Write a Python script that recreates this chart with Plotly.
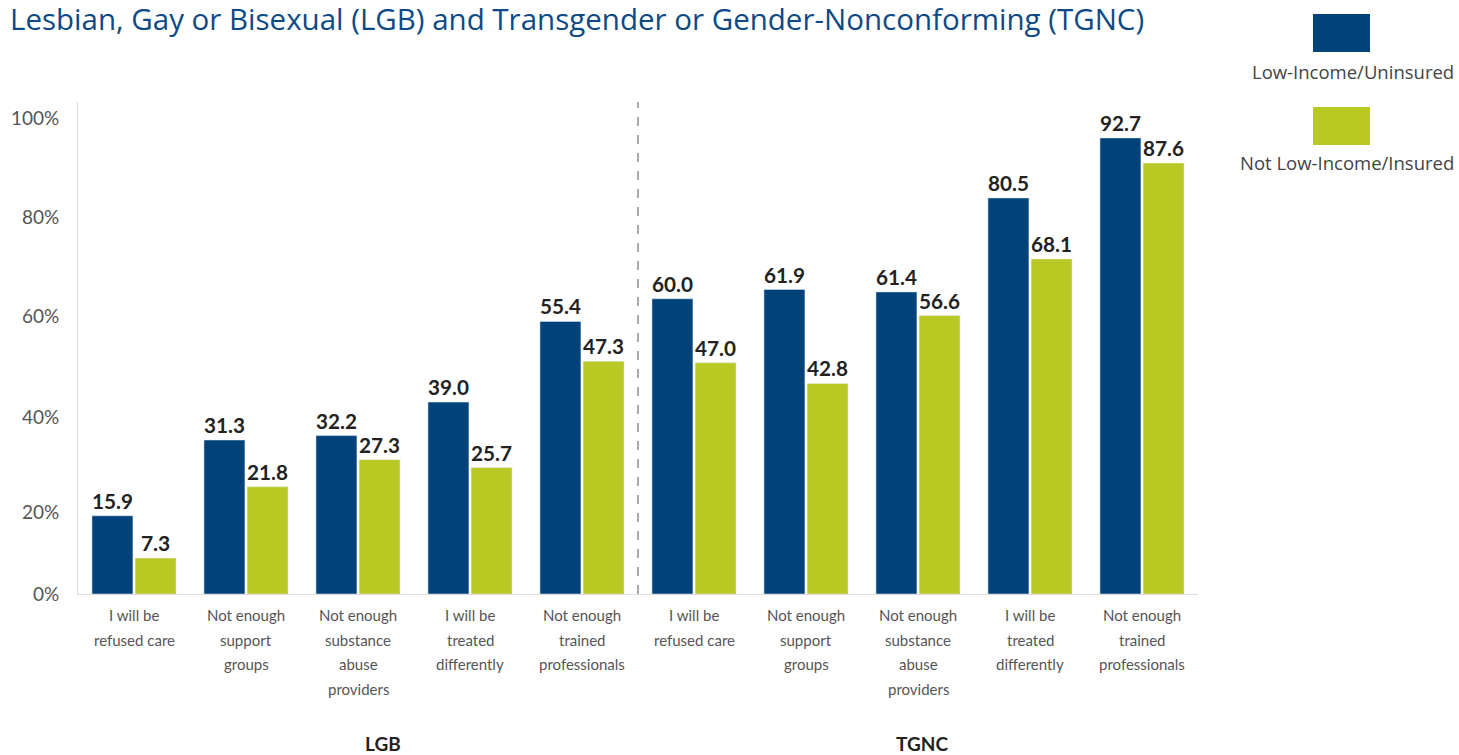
import plotly.graph_objects as go

categories = [
    "I will be<br>refused care",
    "Not enough<br>support<br>groups",
    "Not enough<br>substance<br>abuse<br>providers",
    "I will be<br>treated<br>differently",
    "Not enough<br>trained<br>professionals",
    "I will be<br>refused care",
    "Not enough<br>support<br>groups",
    "Not enough<br>substance<br>abuse<br>providers",
    "I will be<br>treated<br>differently",
    "Not enough<br>trained<br>professionals",
]
low_income_uninsured = [15.9, 31.3, 32.2, 39.0, 55.4, 60.0, 61.9, 61.4, 80.5, 92.7]
not_low_income_insured = [7.3, 21.8, 27.3, 25.7, 47.3, 47.0, 42.8, 56.6, 68.1, 87.6]
tick_text = ["0%", "20%", "40%", "60%", "80%", "100%"]
tick_pos = [0, 16.5, 36.0, 56.5, 76.6, 96.7]
groups = ["LGB", "TGNC"]

BLUE = "#00427A"
GREEN = "#BAC823"
FONT = "Lato, 'Open Sans', sans-serif"
FONT2 = "'Open Sans', Lato, sans-serif"

x = list(range(len(categories)))

fig = go.Figure()
fig.add_trace(go.Bar(
    x=x, y=low_income_uninsured, name="Low-Income/Uninsured",
    marker_color=BLUE,
    text=[f"{v:.1f}" for v in low_income_uninsured],
    textposition="outside",
    textfont=dict(family=FONT, size=21, color="#222222", weight="bold"),
    cliponaxis=False,
))
fig.add_trace(go.Bar(
    x=x, y=not_low_income_insured, name="Not Low-Income/Insured",
    marker_color=GREEN,
    text=[f"{v:.1f}" for v in not_low_income_insured],
    textposition="outside",
    textfont=dict(family=FONT, size=21, color="#222222", weight="bold"),
    cliponaxis=False,
))

W, H = 1459, 755
L, R, T, B = 78, 1198, 102, 594
def px(xp):
    return (xp - L) / (R - L)
def py(yp):
    return (B - yp) / (B - T)

fig.update_layout(
    width=W, height=H,
    margin=dict(l=L, r=W - R, t=T, b=H - B),
    plot_bgcolor="white", paper_bgcolor="white",
    barmode="group", bargap=0.23, bargroupgap=0.05,
    showlegend=False,
    font=dict(family=FONT, color="#555555"),
    title=dict(
        text="Lesbian, Gay or Bisexual (LGB) and Transgender or Gender-Nonconforming (TGNC)",
        x=10 / W, xanchor="left", y=1 - 20 / H, yanchor="middle",
        font=dict(family=FONT2, size=29.5, color="#0D4A85"),
    ),
    xaxis=dict(
        tickmode="array", tickvals=x, showticklabels=False,
        showline=True, linecolor="#DDDDDD", linewidth=1,
        ticks="", range=[-0.5, 9.5], showgrid=False, zeroline=False,
    ),
    yaxis=dict(
        range=[0, 100], tickmode="array", tickvals=tick_pos, ticktext=tick_text,
        tickfont=dict(family=FONT, size=19, color="#555555"),
        showline=True, linecolor="#DDDDDD", linewidth=1,
        ticks="", ticklabelstandoff=14, showgrid=False, zeroline=False,
    ),
)

# category labels (one annotation per line, to match the wider line spacing)
for i, cat in enumerate(categories):
    for k, line in enumerate(cat.split("<br>")):
        fig.add_annotation(text=line, xref="x", yref="paper",
                           x=x[i], y=py(615 + 24.5 * k),
                           xanchor="center", yanchor="middle", showarrow=False,
                           font=dict(family=FONT, size=15, color="#555555"))

# dashed separator between groups
fig.add_shape(type="line", xref="x", yref="y", x0=4.5, x1=4.5, y0=0, y1=100,
              line=dict(color="#555555", width=1, dash="dash"))

# group labels
fig.add_annotation(text="<b>" + groups[0] + "</b>", xref="paper", yref="paper",
                   x=px(383), y=py(743), showarrow=False, xanchor="center", yanchor="middle",
                   font=dict(family=FONT, size=19, color="#222222"))
fig.add_annotation(text="<b>" + groups[1] + "</b>", xref="paper", yref="paper",
                   x=px(922), y=py(743), showarrow=False, xanchor="center", yanchor="middle",
                   font=dict(family=FONT, size=19, color="#222222"))

# custom legend
fig.add_shape(type="rect", xref="paper", yref="paper",
              x0=px(1313), x1=px(1370), y0=py(52), y1=py(14),
              fillcolor=BLUE, line=dict(width=0))
fig.add_shape(type="rect", xref="paper", yref="paper",
              x0=px(1313), x1=px(1370), y0=py(145), y1=py(107),
              fillcolor=GREEN, line=dict(width=0))
fig.add_annotation(text="Low-Income/Uninsured", xref="paper", yref="paper",
                   x=px(1456), y=py(72), xanchor="right", yanchor="middle",
                   showarrow=False, font=dict(family=FONT2, size=18.5, color="#444444"))
fig.add_annotation(text="Not Low-Income/Insured", xref="paper", yref="paper",
                   x=px(1456), y=py(162), xanchor="right", yanchor="middle",
                   showarrow=False, font=dict(family=FONT2, size=18.5, color="#444444"))

fig.write_html("out.html", post_script="document.body.style.margin='0';",
               config={"displayModeBar": False})
